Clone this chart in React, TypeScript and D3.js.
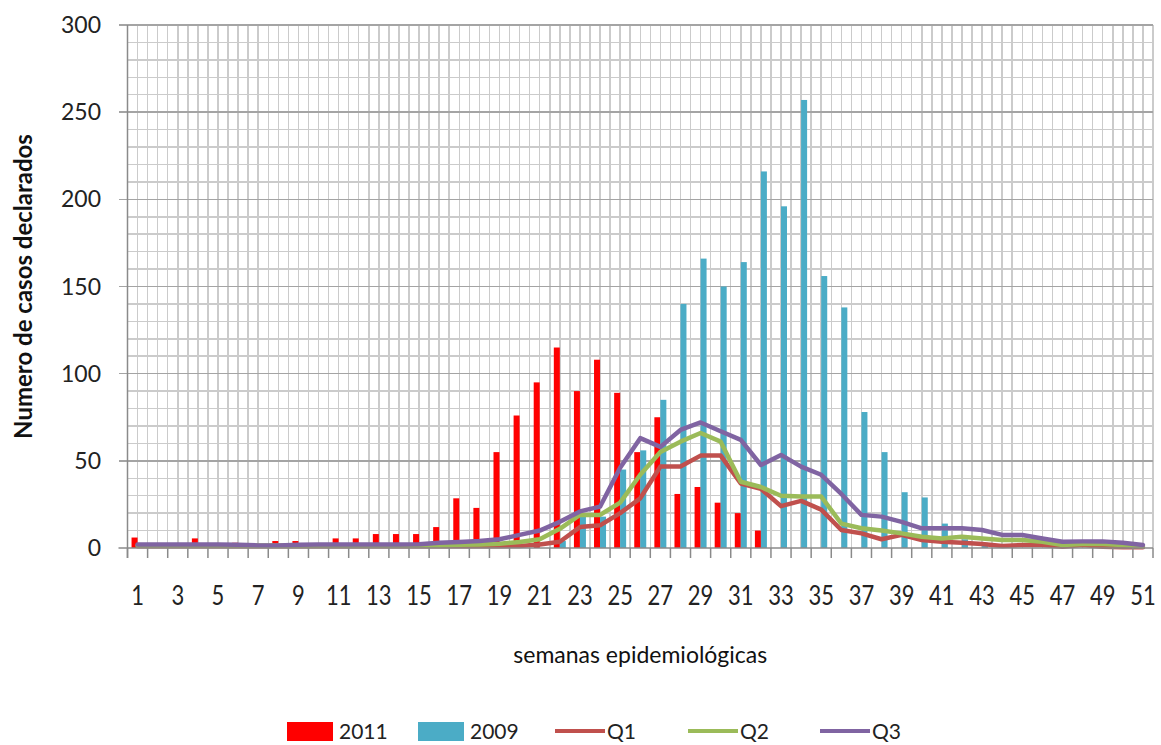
import * as d3 from "d3";
import { useEffect, useRef } from "react";

// semanas epidemiológicas 1..51
const weeks = [
  1, 2, 3, 4, 5, 6, 7, 8, 9, 10, 11, 12, 13, 14, 15, 16, 17, 18, 19, 20, 21, 22, 23, 24, 25, 26,
  27, 28, 29, 30, 31, 32, 33, 34, 35, 36, 37, 38, 39, 40, 41, 42, 43, 44, 45, 46, 47, 48, 49, 50, 51,
];

const cases2011 = [
  6, 0, 0, 5.5, 0, 3, 0, 4, 4, 0, 5.5, 5.5, 8, 8, 8, 12, 28.5, 23, 55, 76, 95, 115, 90, 108, 89, 55,
  75, 31, 35, 26, 20, 10, 0, 0, 0, 0, 0, 0, 0, 0, 0, 0, 0, 0, 0, 0, 0, 0, 0, 0, 0,
];

const cases2009 = [
  0, 0, 0, 0, 0, 0, 0, 0, 0, 0, 0, 0, 0, 0, 0, 0, 0, 0, 0, 0, 0, 4, 19, 18, 45, 56,
  85, 140, 166, 150, 164, 216, 196, 257, 156, 138, 78, 55, 32, 29, 14, 5, 3, 0, 0, 0, 0, 0, 0, 0, 0,
];

const q1 = [
  1, 1, 1, 1, 1, 1, 1, 1, 1, 1, 1, 1, 1, 1, 1, 1, 1, 1, 1, 1.2, 2, 3.6, 12, 13, 20, 28.5,
  46.7, 46.7, 53, 53, 37, 34, 24, 27, 22, 10.3, 8.4, 5, 7.5, 4.6, 3.6, 3, 2.3, 1.1, 1.7, 1.7, 0.7, 1.7, 0.7, 0.5, 0.5,
];

const q2 = [
  1.5, 1.5, 1.5, 1.5, 1.5, 1.5, 1.5, 1.5, 1.5, 1.5, 1.5, 1.5, 1.5, 1.5, 1.5, 1.5, 1.8, 2, 2.5, 3.5, 5, 11, 19, 19, 26, 42,
  55, 61, 66, 61, 38, 35, 30, 29.5, 29.5, 14, 11.3, 10, 8.4, 6.5, 5.5, 6.5, 5.5, 4.6, 4.6, 3.6, 1.7, 2.3, 2.3, 1.7, 1,
];

const q3 = [
  2, 2, 2, 2, 2, 1.8, 1.5, 1.5, 1.8, 2, 2, 2, 2, 2, 2.2, 3, 3.5, 4, 5, 7.5, 10, 15, 21, 23.7, 46, 63,
  58, 67.7, 72, 67, 62, 47.6, 53.4, 46.7, 42, 31, 19, 18, 15, 11.3, 11.3, 11.3, 10.3, 7.5, 7.5, 5.5, 3.6, 3.8, 3.8, 3, 1.7,
];

const yTicks = [0, 50, 100, 150, 200, 250, 300];

const barSeries = [
  { name: "2011", values: cases2011, color: "#FF0000" },
  { name: "2009", values: cases2009, color: "#4BACC6" },
];

const lineSeries = [
  { name: "Q1", values: q1, color: "#C0504D" },
  { name: "Q2", values: q2, color: "#9BBB59" },
  { name: "Q3", values: q3, color: "#8064A2" },
];

const FONT = "Lato, 'Open Sans', sans-serif";

export default function App() {
  const ref = useRef<SVGSVGElement>(null);

  useEffect(() => {
    const svg = d3.select(ref.current);
    svg.selectAll("*").remove();

    const left = 127.5;
    const right = 1153;
    const top = 25;
    const bottom = 548;

    const x = d3.scaleBand<string>().domain(weeks.map(String)).range([left, right]).padding(0);
    const y = d3.scaleLinear().domain([0, 300]).range([bottom, top]);
    const sub = d3
      .scaleBand<string>()
      .domain(barSeries.map((s) => s.name))
      .range([0, x.bandwidth()])
      .paddingInner(0)
      .paddingOuter(0.675);
    const bw = x.bandwidth();
    const cx = (w: number) => (x(String(w)) as number) + bw / 2;

    // grid
    const grid = svg.append("g").attr("shape-rendering", "crispEdges");
    const vx: number[] = [];
    weeks.forEach((w) => {
      vx.push(x(String(w)) as number);
      vx.push(cx(w));
    });
    vx.push(right);
    grid
      .selectAll("line.v")
      .data(vx.slice(1))
      .join("line")
      .attr("x1", (d) => d)
      .attr("x2", (d) => d)
      .attr("y1", top)
      .attr("y2", bottom)
      .attr("stroke", "#CBCBCB")
      .attr("stroke-width", 1.5);

    const minor = d3.range(10, 300, 10).filter((v) => v % 50 !== 0);
    grid
      .selectAll("line.minor")
      .data(minor)
      .join("line")
      .attr("x1", left)
      .attr("x2", right)
      .attr("y1", (d) => y(d))
      .attr("y2", (d) => y(d))
      .attr("stroke", "#CBCBCB")
      .attr("stroke-width", 1.5);
    grid
      .selectAll("line.major")
      .data(yTicks.filter((v) => v > 0))
      .join("line")
      .attr("x1", left - 9)
      .attr("x2", right)
      .attr("y1", (d) => y(d))
      .attr("y2", (d) => y(d))
      .attr("stroke", "#A4A4A4")
      .attr("stroke-width", 1.5);

    // bars
    barSeries.forEach((s) => {
      svg
        .append("g")
        .selectAll("rect")
        .data(s.values.map((v, i) => ({ w: weeks[i], v })).filter((d) => d.v > 0))
        .join("rect")
        .attr("x", (d) => (x(String(d.w)) as number) + (sub(s.name) as number))
        .attr("width", sub.bandwidth())
        .attr("y", (d) => y(d.v))
        .attr("height", (d) => y(0) - y(d.v))
        .attr("fill", s.color);
    });

    // lines
    const line = d3
      .line<number>()
      .x((_, i) => cx(weeks[i]))
      .y((d) => y(d));
    lineSeries.forEach((s) => {
      svg
        .append("path")
        .attr("d", line(s.values))
        .attr("fill", "none")
        .attr("stroke", s.color)
        .attr("stroke-width", 4.5)
        .attr("stroke-linejoin", "round")
        .attr("stroke-linecap", "round");
    });

    // axes
    const axes = svg.append("g").attr("stroke", "#8A8A8A").attr("stroke-width", 1.5);
    axes.append("line").attr("x1", left).attr("x2", left).attr("y1", top).attr("y2", bottom + 10);
    axes.append("line").attr("x1", left - 9).attr("x2", right).attr("y1", bottom).attr("y2", bottom);
    axes
      .selectAll("line.xt")
      .data([...weeks.map((w) => x(String(w)) as number), right])
      .join("line")
      .attr("x1", (d) => d)
      .attr("x2", (d) => d)
      .attr("y1", bottom)
      .attr("y2", bottom + 10);

    svg
      .append("g")
      .attr("font-family", FONT)
      .attr("font-size", 23)
      .attr("fill", "#222")
      .attr("text-anchor", "end")
      .selectAll("text")
      .data(yTicks)
      .join("text")
      .attr("x", 101)
      .attr("y", (d) => y(d) + 8)
      .text((d) => d);

    svg
      .append("g")
      .attr("font-family", FONT)
      .attr("font-size", 22)
      .attr("fill", "#222")
      .attr("text-anchor", "middle")
      .selectAll("text")
      .data(weeks.filter((w) => w % 2 === 1))
      .join("text")
      .attr("transform", (d) => `translate(${cx(d)},605) scale(1,1.2)`)
      .text((d) => d);

    svg
      .append("text")
      .attr("x", (left + right) / 2)
      .attr("y", 663)
      .attr("text-anchor", "middle")
      .attr("font-family", FONT)
      .attr("font-size", 23)
      .attr("fill", "#111")
      .text("semanas epidemiológicas");

    svg
      .append("text")
      .attr("transform", `translate(32,${(top + bottom) / 2}) rotate(-90)`)
      .attr("text-anchor", "middle")
      .attr("font-family", FONT)
      .attr("font-size", 24)
      .attr("font-weight", "bold")
      .attr("fill", "#111")
      .text("Numero de casos declarados");

    // legend
    const legend = svg
      .append("g")
      .attr("font-family", FONT)
      .attr("font-size", 21)
      .attr("fill", "#222");
    const barX = [287, 418];
    barSeries.forEach((s, i) => {
      legend.append("rect").attr("x", barX[i]).attr("y", 722).attr("width", 46).attr("height", 19).attr("fill", s.color);
      legend.append("text").attr("x", barX[i] + 52).attr("y", 739).text(s.name);
    });
    const lineX = [555, 688, 820];
    lineSeries.forEach((s, i) => {
      legend
        .append("line")
        .attr("x1", lineX[i])
        .attr("x2", lineX[i] + 50)
        .attr("y1", 731)
        .attr("y2", 731)
        .attr("stroke", s.color)
        .attr("stroke-width", 4);
      legend.append("text").attr("x", lineX[i] + 52).attr("y", 739).text(s.name);
    });
  }, []);

  return (
    <div style={{ position: "absolute", left: 0, top: 0 }}>
      <svg ref={ref} width={1161} height={745} style={{ display: "block", background: "#fff" }}></svg>
    </div>
  );
}
